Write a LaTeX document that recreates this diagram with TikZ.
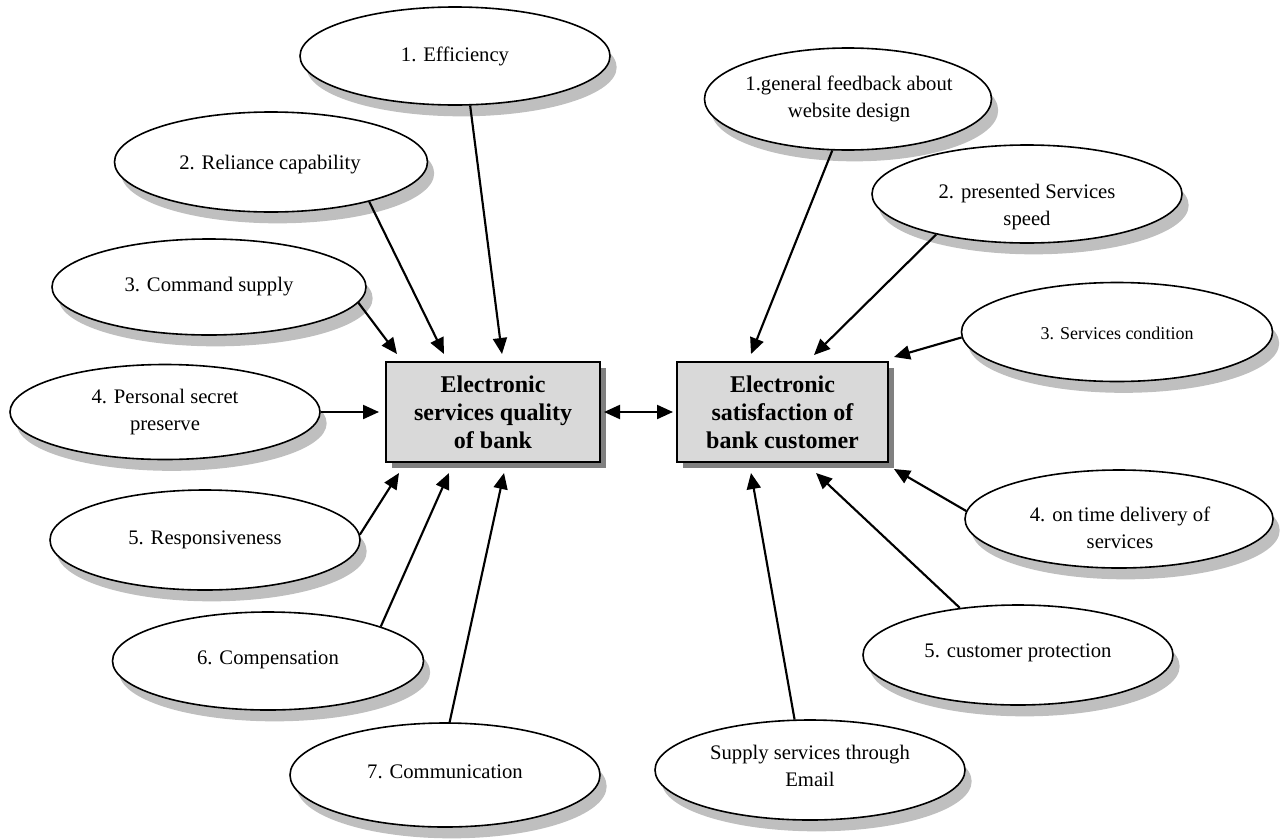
\documentclass[tikz,border=0pt]{standalone}
\usepackage{fontspec}
\setmainfont{Liberation Serif}
\usetikzlibrary{shapes.geometric,arrows.meta,shadows,calc}
\begin{document}
\begin{tikzpicture}[x=0.75pt,y=-0.75pt,
  ell/.style={ellipse, draw, line width=1.2pt, fill=white, inner sep=0pt,
    drop shadow={shadow xshift=5pt, shadow yshift=-8.5pt, fill=black!25, opacity=1}},
  txt/.style={align=center, inner sep=0pt, font=\fontsize{15.5}{20}\selectfont},
  smalltxt/.style={align=center, inner sep=0pt, font=\fontsize{13.5}{18}\selectfont},
  mainbox/.style={rectangle, draw, line width=1.5pt, fill=black!15, align=center,
    minimum width=160.5pt, minimum height=75pt, inner sep=0pt,
    font=\fontsize{18}{21}\selectfont\bfseries,
    drop shadow={shadow xshift=4.5pt, shadow yshift=-4.5pt, fill=black!50, opacity=1}},
  arr/.style={line width=1.6pt, -{Triangle[length=12pt,width=10.5pt]}},
  darr/.style={line width=1.6pt, {Triangle[length=12pt,width=10.5pt]}-{Triangle[length=12pt,width=10.5pt]}}
]
\useasboundingbox (0,0) rectangle (1288,839);

% left ellipses
\node[ell, minimum width=232.5pt, minimum height=73.5pt] (e1) at (455,56) {};
\node[txt] (t1) at (455,56) {1. Efficiency};
\node[ell, minimum width=234.75pt, minimum height=75pt] (e2) at (271,162) {};
\node[txt] (t2) at (270,165) {2. Reliance capability};
\node[ell, minimum width=235.5pt, minimum height=72pt] (e3) at (209,287) {};
\node[txt] (t3) at (209,287) {3. Command supply};
\node[ell, minimum width=232.5pt, minimum height=71.25pt] (e4) at (165,412) {};
\node[txt] (t4) at (165,412) {4. Personal secret\\preserve};
\node[ell, minimum width=232.5pt, minimum height=75pt] (e5) at (205,540) {};
\node[txt] (t5) at (205,540) {5. Responsiveness};
\node[ell, minimum width=233.25pt, minimum height=73.5pt] (e6) at (268,661) {};
\node[txt] (t6) at (268,660) {6. Compensation};
\node[ell, minimum width=232.5pt, minimum height=78pt] (e7) at (445,775) {};
\node[txt] (t7) at (445,772) {7. Communication};

% right ellipses
\node[ell, minimum width=215.25pt, minimum height=76.5pt] (r1) at (848,99) {};
\node[txt] (u1) at (849,99) {1.general feedback about\\website design};
\node[ell, minimum width=232.5pt, minimum height=73.5pt] (r2) at (1027,194) {};
\node[txt] (u2) at (1027,207) {2. presented Services\\speed};
\node[ell, minimum width=233.25pt, minimum height=74.25pt] (r3) at (1117,332) {};
\node[smalltxt] (u3) at (1117,333) {3. Services condition};
\node[ell, minimum width=231pt, minimum height=73.5pt] (r4) at (1119,519) {};
\node[txt] (u4) at (1120,528) {4. on time delivery of\\services};
\node[ell, minimum width=232.5pt, minimum height=75pt] (r5) at (1018,655) {};
\node[txt] (u5) at (1018,653) {5. customer protection};
\node[ell, minimum width=232.5pt, minimum height=75pt] (r6) at (810,770) {};
\node[txt] (u6) at (810,766) {Supply services through\\Email};

% central boxes
\node[mainbox] (bq) at (493,412) {Electronic\\services quality\\of bank};
\node[mainbox, minimum width=158.25pt] (br) at (782.5,412) {Electronic\\satisfaction of\\bank customer};

% arrows into left box
\draw[arr] (e1.-73) -- ($(bq.north west)+(117,-7)$);
\draw[arr] (e2.-22.7) -- ($(bq.north west)+(59,-7)$);
\draw[arr] (e3.-6) -- ($(bq.north west)+(12,-7)$);
\draw[arr] (e4.east) -- ($(bq.west)+(-6,0)$);
\draw[arr] (e5.2) -- ($(bq.south west)+(14,10)$);
\draw[arr] (e6.17) -- ($(bq.south west)+(64,10)$);
\draw[arr] (e7.85) -- ($(bq.south west)+(119,10)$);

% arrows into right box
\draw[arr] (r1.-107) -- ($(br.north west)+(75,-7)$);
\draw[arr] (r2.-156) -- ($(br.north west)+(138,-6)$);
\draw[arr] (r3.-178) -- ($(br.north east)+(5,-4)$);
\draw[arr] (r4.177) -- ($(br.south east)+(5,6)$);
\draw[arr] (r5.141) -- ($(br.south west)+(140,10)$);
\draw[arr] (r6.107) -- ($(br.south west)+(75,10)$);

% double arrow between boxes
\draw[darr] ($(bq.east)+(3,0)$) -- ($(br.west)+(-3,0)$);
\end{tikzpicture}
\end{document}
